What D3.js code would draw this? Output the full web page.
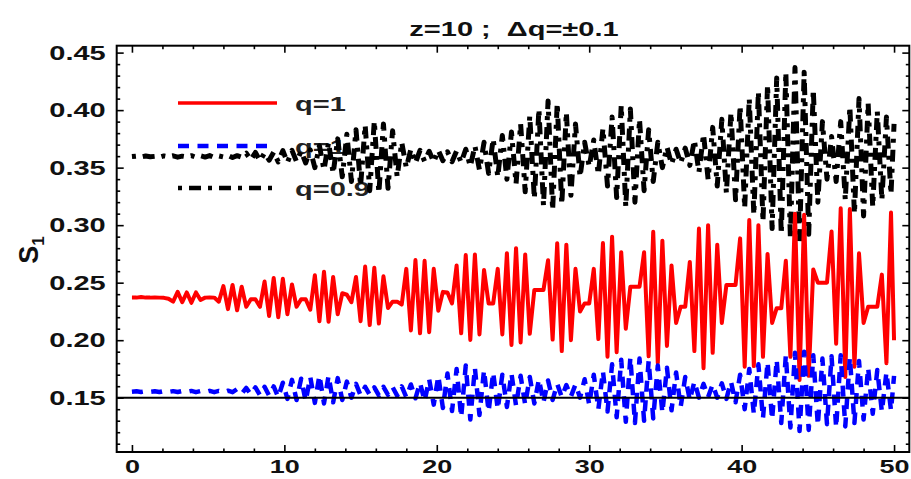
<!DOCTYPE html>
<html><head><meta charset="utf-8">
<script src="https://cdn.jsdelivr.net/npm/d3@7"></script>
<style>body{margin:0;background:#fff}svg{display:block}</style>
</head><body>
<svg id="c" width="911" height="479"></svg>
<script>
// ---------- data ----------
const sampleStep = 0.3; // time between samples (x units)
const seriesRed = [
0.237,0.237,0.2375,0.237,0.237,0.2372,0.237,0.2368,
0.236,0.2335,0.242,0.233,0.2415,0.2325,0.2415,0.235,0.237,0.2372,0.237,
0.2335,0.247,0.227,0.248,0.226,0.2465,0.229,0.2356,0.2356,
0.229,0.251,0.221,0.254,0.220,0.2535,0.2225,0.2485,0.229,0.2356,0.2356,
0.2265,0.2565,0.2165,0.2595,0.216,0.255,0.2225,0.2408,0.2395,
0.233,0.255,0.2165,0.264,0.2132,0.263,0.2145,0.2555,0.228,0.2335,0.2335,
0.231,0.262,0.2085,0.2697,0.206,0.269,0.207,0.262,0.2255,0.242,0.2415,
0.232,0.265,0.206,0.274,0.2002,0.2745,0.205,0.261,0.232,0.232,
0.262,0.205,0.2756,0.1958,0.280,0.198,0.2745,0.2055,0.2437,0.2437,0.2437,
0.2695,0.2005,0.2843,0.1905,0.283,0.2,0.262,0.225,0.232,0.232,
0.262,0.201,0.2845,0.1857,0.290,0.1895,0.2765,0.21,0.2465,0.2465,0.2465,
0.2765,0.186,0.2943,0.180,0.2865,0.195,0.265,0.215,0.229,0.229,
0.268,0.1905,0.297,0.1756,0.300,0.189,0.283,0.215,0.248,0.248,0.248,
0.2885,0.177,0.3045,0.1775,0.300,0.1855,0.275,0.215,0.2278,0.2278,
0.269,0.1855,0.310,0.1654,0.309,0.169,0.2615,0.25,0.25,0.25,
0.2945,0.197,0.3147,0.168,0.314,0.177,0.2755,0.215,0.229,0.229,0.229,
0.257,0.18,0.311,0.20
];
const seriesBlue = [
0.1552,0.1556,0.1550,0.1557,0.1551,0.1556,0.1549,0.1558,0.1550,0.1557,0.1549,0.1558,0.1550,0.1559,0.1548,0.1558,0.1549,0.1560,0.1548,0.1559,0.1547,0.1561,0.1548,
0.1575,0.1535,0.1585,0.1528,0.1590,0.1522,0.1595,0.1518,0.1598,
0.1505,0.1630,0.1490,0.1655,0.1480,0.1665,
0.1470,0.1680,0.1455,0.1695,0.1450,0.1690,0.1460,0.1670,
0.1480,0.1640,0.1500,0.1620,
0.1520,0.1595,0.1525,0.1590,0.1520,0.1595,0.1525,0.1592,0.1518,0.1598,
0.1505,0.1615,0.1495,0.1630,
0.1470,0.1660,0.1440,0.1690,0.1410,0.1710,0.1385,
0.1750,0.1330,0.1780,0.1310,0.1760,
0.1350,0.1740,0.1380,0.1720,0.1400,0.1700,0.1420,0.1710,0.1430,
0.1690,0.1440,0.1680,0.1450,0.1660,0.1460,0.1650,0.1480,
0.1620,0.1505,0.1610,0.1510,0.1615,0.1500,
0.1660,0.1440,0.1700,0.1400,0.1730,0.1380,
0.1790,0.1330,0.1830,0.1290,0.1850,0.1280,0.1840,0.1300,0.1820,0.1320,
0.1780,0.1370,0.1760,0.1390,0.1720,0.1420,0.1680,
0.1480,0.1640,0.1500,0.1620,0.1505,0.1615,0.1500,0.1625,0.1490,0.1640,
0.1460,0.1700,0.1400,0.1750,0.1360,0.1790,0.1320,0.1810,0.1310,
0.1830,0.1280,0.1870,0.1240,0.1890,0.1210,0.1900,0.1220,0.1870,0.1260,
0.1840,0.1270,0.1860,0.1240,0.1870,0.1250,0.1850,0.1280,0.1820,0.1310,
0.1760,0.1360,0.1740,0.1380,0.1720,0.1390,0.1690
];
const seriesBlack = [
0.3596,0.3600,0.3592,0.3601,0.3594,0.3598,0.3590,0.3602,0.3595,0.3603,0.3591,0.3600,0.3594,0.3604,0.3590,0.3603,0.3592,0.3605,0.3589,0.3602,0.3593,0.3606,0.3588,0.3604,0.3590,
0.3625,0.3568,0.3632,0.3560,0.3628,0.3565,0.3635,
0.3550,0.3648,0.3545,0.3650,0.3552,0.3643,0.3540,0.3655,
0.3500,0.3690,0.3480,0.3720,0.3450,0.3750,0.3420,
0.3790,0.3380,0.3830,0.3340,0.3870,0.3300,0.3905,0.3280,0.3880,0.3320,
0.3820,0.3420,0.3720,0.3500,
0.3660,0.3540,0.3650,0.3555,0.3642,0.3548,0.3650,0.3560,0.3638,0.3552,0.3645,0.3545,0.3660,
0.3510,0.3690,0.3480,0.3720,0.3450,0.3750,0.3420,0.3780,0.3400,
0.3810,0.3360,0.3880,0.3290,0.3950,0.3230,0.4010,0.3170,0.4080,0.3130,0.4060,0.3180,0.3980,0.3260,0.3880,
0.3420,0.3720,0.3510,
0.3740,0.3440,0.3840,0.3340,0.3940,0.3240,0.4040,0.3160,0.4010,0.3200,0.3920,0.3300,0.3830,0.3380,0.3720,
0.3500,0.3680,0.3530,0.3660,0.3540,0.3670,0.3520,
0.3740,0.3460,0.3790,0.3400,0.3850,0.3340,0.3920,0.3280,0.3980,0.3220,0.4040,0.3150,0.4100,0.3090,0.4160,0.3030,0.4220,0.2970,0.4280,0.2920,0.4330,0.2880,0.4370,0.2860,0.4330,0.2920,0.4180,0.3200,0.3900,0.3400,
0.3770,0.3380,0.3900,0.3220,0.4030,0.3100,0.4100,0.3080,0.4060,0.3160,0.3990,0.3220,0.3940,0.3270,0.3880
];
const legendLabels = ["q=1", "q=1", "q=0.9"];
const xTickValues = [0, 10, 20, 30, 40, 50];
const yTickValues = [0.15, 0.20, 0.25, 0.30, 0.35, 0.40, 0.45];
const refLevel = 0.15;
const chartTitle = "z=10 ;  \u0394q=\u00b10.1";

// ---------- layout ----------
const L = 116.7, R = 909.3, T = 45.7, B = 452;
const svg = d3.select("#c");
const x = d3.scaleLinear().domain([-1, 51]).range([L, R]);
const y = d3.scaleLinear().domain([0.1028, 0.456]).range([B, T]);
const FONT = "'Liberation Sans', Arial, sans-serif";
function stretch(sel, k) {
  sel.each(function () {
    const w = this.getComputedTextLength();
    d3.select(this).attr("textLength", w * k).attr("lengthAdjust", "spacingAndGlyphs");
  });
}

const toPts = arr => arr.map((v, i) => [Math.min(i * sampleStep, 50), v]);
const line = d3.line().x(d => x(d[0])).y(d => y(d[1]));

svg.append("defs").append("clipPath").attr("id", "clip")
  .append("rect").attr("x", L).attr("y", T).attr("width", R - L).attr("height", B - T);

// title
const tt = svg.append("text").attr("x", 514).attr("y", 36).attr("text-anchor", "middle")
  .attr("font-family", FONT).attr("font-weight", "bold").attr("font-size", 20)
  .style("white-space", "pre").attr("fill", "#111").text(chartTitle);
stretch(tt, 1.45);

// legend (drawn beneath the data)
const styles = [
  { color: "#ff0000", width: 4, dash: null },
  { color: "#0000ff", width: 4.5, dash: "11,8.5" },
  { color: "#000000", width: 5, dash: "4,7,12,7" }
];
const legY = [103, 146, 188];
const lg = svg.append("g");
styles.forEach((s, i) => {
  lg.append("line").attr("x1", 178).attr("x2", i === 0 ? 277 : 273)
    .attr("y1", legY[i]).attr("y2", legY[i])
    .attr("stroke", s.color).attr("stroke-width", i === 0 ? 3.5 : 4.5)
    .attr("stroke-dasharray", s.dash);
  const t = lg.append("text").attr("x", 295).attr("y", legY[i] + 7.5)
    .attr("font-family", FONT).attr("font-weight", "bold").attr("font-size", 21)
    .attr("fill", "#222").text(legendLabels[i]);
  stretch(t, 1.38);
});

// data
const gd = svg.append("g").attr("clip-path", "url(#clip)");
[seriesBlack, seriesRed, seriesBlue].forEach((arr, j) => {
  const s = [styles[2], styles[0], styles[1]][j];
  gd.append("path").datum(toPts(arr)).attr("d", line)
    .attr("fill", "none").attr("stroke", s.color).attr("stroke-width", s.width)
    .attr("stroke-linejoin", "round")
    .attr("stroke-dasharray", s.dash);
});

// reference line at 0.15
svg.append("line").attr("x1", L).attr("x2", R).attr("y1", y(refLevel)).attr("y2", y(refLevel))
  .attr("stroke", "#000").attr("stroke-width", 2);

// axes
const xMinor = d3.range(2, 51, 2).filter(v => v % 10 !== 0);
const yMinor = d3.range(11, 46).map(v => v / 100).filter(v => Math.round(v * 100) % 5 !== 0);
function styleAxis(g) {
  g.select(".domain").remove();
  g.selectAll(".tick line").attr("stroke", "#000").attr("stroke-width", 1.6);
}
// left
const gl = svg.append("g").attr("transform", `translate(${L},0)`)
  .call(d3.axisLeft(y).tickValues(yTickValues).tickSize(-7).tickPadding(11).tickFormat(d3.format(".2f")));
styleAxis(gl);
gl.selectAll("text").attr("font-family", FONT).attr("font-weight", "bold").attr("font-size", 20).attr("fill", "#111");
stretch(gl.selectAll("text"), 1.45);
svg.append("g").attr("transform", `translate(${L},0)`)
  .call(d3.axisLeft(y).tickValues(yMinor).tickSize(-3.5).tickFormat("")).call(styleAxis);
// right
svg.append("g").attr("transform", `translate(${R},0)`)
  .call(d3.axisRight(y).tickValues(yTickValues).tickSize(-7).tickFormat("")).call(styleAxis);
svg.append("g").attr("transform", `translate(${R},0)`)
  .call(d3.axisRight(y).tickValues(yMinor).tickSize(-3.5).tickFormat("")).call(styleAxis);
// bottom
const gb = svg.append("g").attr("transform", `translate(0,${B})`)
  .call(d3.axisBottom(x).tickValues(xTickValues).tickSize(-7).tickPadding(8).tickFormat(d3.format("d")));
styleAxis(gb);
gb.selectAll("text").attr("font-family", FONT).attr("font-weight", "bold").attr("font-size", 19).attr("fill", "#111")
  .attr("dy", "0.71em");
stretch(gb.selectAll("text"), 1.42);
svg.append("g").attr("transform", `translate(0,${B})`)
  .call(d3.axisBottom(x).tickValues(xMinor).tickSize(-3.5).tickFormat("")).call(styleAxis);
// top
svg.append("g").attr("transform", `translate(0,${T})`)
  .call(d3.axisTop(x).tickValues(xTickValues).tickSize(-7).tickFormat("")).call(styleAxis);
svg.append("g").attr("transform", `translate(0,${T})`)
  .call(d3.axisTop(x).tickValues(xMinor).tickSize(-3.5).tickFormat("")).call(styleAxis);

// frame
svg.append("rect").attr("x", L).attr("y", T).attr("width", R - L).attr("height", B - T)
  .attr("fill", "none").attr("stroke", "#000").attr("stroke-width", 2);

// y-axis title
const yl = svg.append("text").attr("transform", "translate(38,250) rotate(-90)")
  .attr("text-anchor", "middle").attr("font-family", FONT).attr("font-weight", "bold")
  .attr("font-size", 27).attr("fill", "#111");
yl.append("tspan").text("S");
yl.append("tspan").attr("font-size", 17).attr("dy", 6).text("1");
</script>
</body></html>
